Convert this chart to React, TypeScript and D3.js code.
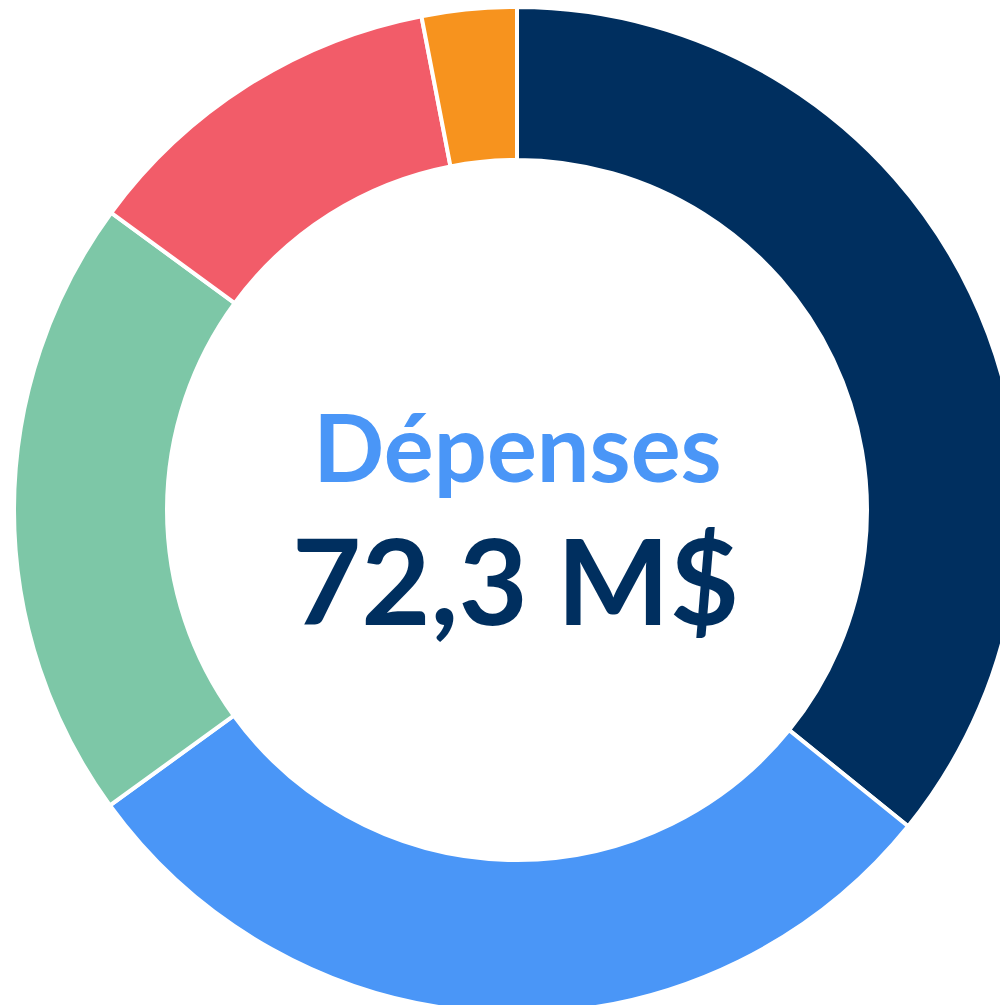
import React from 'react';
import * as d3 from 'd3';

const categories = ['A', 'B', 'C', 'D', 'E'];
const values = [25.9, 21.1, 14.5, 8.6, 2.2];
const colors = ['#002f5f', '#4a96f7', '#7dc7a7', '#f25c69', '#f7931e'];
const title = 'Dépenses';
const total = '72,3 M$';

const App = () => {
  const width = 1000;
  const height = 1005;
  const cx = 517;
  const cy = 510;
  const outer = 503;
  const inner = 350;

  const pie = d3.pie<number>().sort(null).value(d => d);
  const arcs = pie(values);
  const arc = d3.arc<d3.PieArcDatum<number>>().innerRadius(inner).outerRadius(outer);

  return (
    <svg width={width} height={height} style={{ position: 'absolute', left: 0, top: 0 }}>
      <g transform={`translate(${cx},${cy})`}>
        {arcs.map((a, i) => (
          <path key={categories[i]} d={arc(a) || ''} fill={colors[i]} stroke="#fff" strokeWidth={4} />
        ))}
        <text
          x={0.5}
          y={-28}
          textAnchor="middle"
          fontFamily="Lato"
          fontWeight={700}
          fontSize={93.5}
          fill="#4a96f7"
        >
          {title}
        </text>
        <text
          x={-1.5}
          y={115}
          textAnchor="middle"
          fontFamily="Lato"
          fontWeight={700}
          fontSize={119.5}
          fill="#002f5f"
        >
          {total}
        </text>
      </g>
    </svg>
  );
};

export default App;
